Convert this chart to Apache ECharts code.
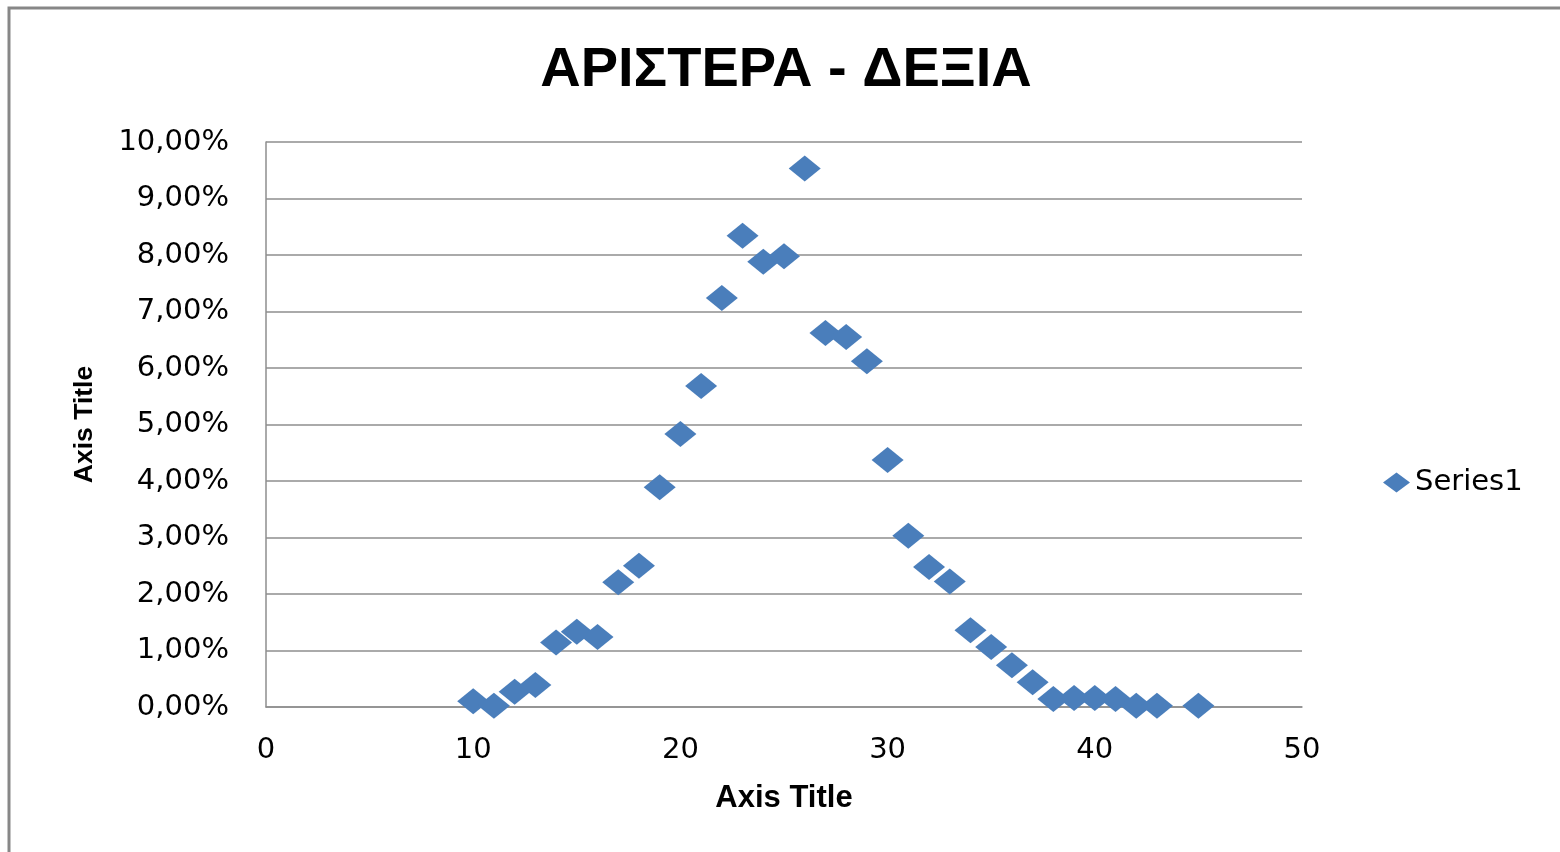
<!DOCTYPE html>
<html>
<head>
<meta charset="utf-8">
<script src="https://cdn.jsdelivr.net/npm/echarts@6/dist/echarts.min.js"></script>
<style>
  html, body { margin: 0; padding: 0; background: #ffffff; }
  #chart { width: 1560px; height: 852px; }
</style>
</head>
<body>
<div id="chart"></div>
<script>
// ---- data ----
const chartTitle = "ΑΡΙΣΤΕΡΑ - ΔΕΞΙΑ";
const seriesName = "Series1";
const xAxisTitle = "Axis Title";
const yAxisTitle = "Axis Title";
const xValues = [10, 11, 12, 13, 14, 15, 16, 17, 18, 19, 20, 21, 22, 23, 24, 25, 26, 27, 28, 29, 30, 31, 32, 33, 34, 35, 36, 37, 38, 39, 40, 41, 42, 43, 45];
// values in percent
const yValues = [0.10, 0.02, 0.27, 0.39, 1.14, 1.33, 1.24, 2.21, 2.50, 3.89, 4.83, 5.68, 7.24, 8.34, 7.88, 7.98, 9.53, 6.62, 6.55, 6.12, 4.37, 3.03, 2.48, 2.22, 1.36, 1.06, 0.74, 0.44, 0.14, 0.16, 0.16, 0.14, 0.02, 0.02, 0.02];
const xTicks = [0, 10, 20, 30, 40, 50];
const yTicks = [0, 1, 2, 3, 4, 5, 6, 7, 8, 9, 10];

const points = xValues.map((x, i) => [x, yValues[i]]);

const chart = echarts.init(document.getElementById('chart'), null, { renderer: 'canvas' });
const gridColor = '#8e8e8e';
const option = {
  backgroundColor: '#ffffff',
  animation: false,
  title: {
    text: chartTitle,
    left: 781,
    top: 38,
    textAlign: 'center',
    textStyle: { fontFamily: 'Liberation Sans', fontWeight: 'bold', fontSize: 56, lineHeight: 56, color: '#000000' }
  },
  legend: {
    data: [seriesName],
    left: 1378,
    top: 463,
    icon: 'diamond',
    itemWidth: 27,
    itemHeight: 20,
    itemStyle: { opacity: 1 },
    textStyle: { fontFamily: 'DejaVu Sans', fontSize: 29, lineHeight: 29, color: '#000000' }
  },
  grid: { left: 266, right: 258, top: 142, bottom: 145, containLabel: false },
  xAxis: {
    type: 'value',
    min: xTicks[0],
    max: xTicks[xTicks.length - 1],
    interval: 10,
    name: xAxisTitle,
    nameLocation: 'middle',
    nameGap: 76,
    nameTextStyle: { fontFamily: 'Liberation Sans', fontWeight: 'bold', fontSize: 31, lineHeight: 30, color: '#000000' },
    axisLine: { show: true, lineStyle: { color: gridColor, width: 1.5 } },
    axisTick: { show: false },
    splitLine: { show: false },
    axisLabel: { margin: 29, fontFamily: 'DejaVu Sans', fontSize: 29, lineHeight: 29, color: '#000000' }
  },
  yAxis: {
    type: 'value',
    min: yTicks[0],
    max: yTicks[yTicks.length - 1],
    interval: 1,
    name: yAxisTitle,
    nameLocation: 'middle',
    nameGap: 168,
    nameRotate: 90,
    nameTextStyle: { fontFamily: 'Liberation Sans', fontWeight: 'bold', fontSize: 26.5, lineHeight: 26, color: '#000000' },
    axisLine: { show: true, lineStyle: { color: gridColor, width: 1.5 } },
    axisTick: { show: false },
    splitLine: { show: true, lineStyle: { color: gridColor, width: 1.5 } },
    axisLabel: {
      margin: 37,
      fontFamily: 'DejaVu Sans', fontSize: 29, lineHeight: 29, color: '#000000',
      padding: [3, 0, 0, 0],
      formatter: v => v.toFixed(2).replace('.', ',') + '%'
    }
  },
  graphic: [
    { type: 'rect', silent: true, shape: { x: 9, y: 8, width: 1700, height: 1000 },
      style: { fill: 'none', stroke: '#878787', lineWidth: 3 } }
  ],
  series: [{
    name: seriesName,
    type: 'scatter',
    symbol: 'diamond',
    symbolSize: [32, 26],
    itemStyle: { color: '#4a7ebb', opacity: 1 },
    data: points
  }]
};
chart.setOption(option);
</script>
</body>
</html>
